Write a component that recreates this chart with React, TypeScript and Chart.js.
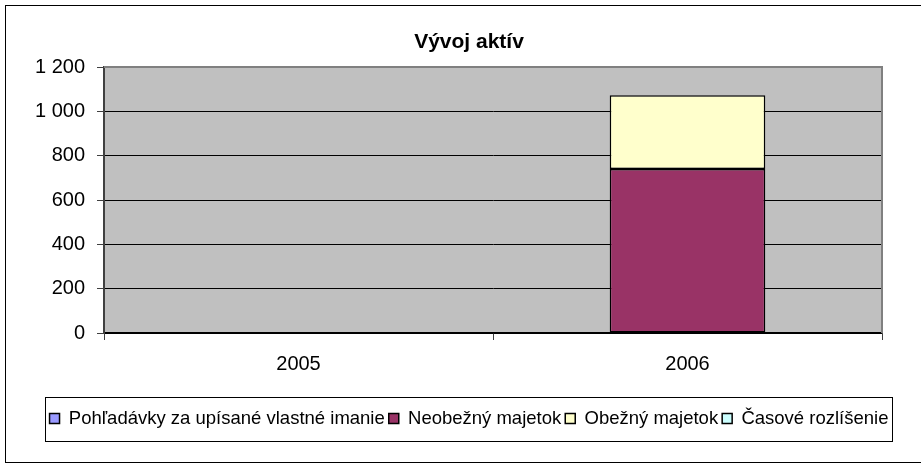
import { useEffect, useRef } from "react";
import { Chart, registerables } from "chart.js";

Chart.register(...registerables);

const chartTitle = "Vývoj aktív";
const categories = ["2005", "2006"];
const seriesNames = [
  "Pohľadávky za upísané vlastné imanie",
  "Neobežný majetok",
  "Obežný majetok",
  "Časové rozlíšenie",
];
const pohladavky = [null, 0];
const neobezny = [null, 740];
const obezny = [null, 333];
const casove = [null, 0];
const seriesColors = ["#9999FF", "#993366", "#FFFFCC", "#CCFFFF"];
const yMin = 0;
const yMax = 1200;
const yStep = 200;

const FONT = "'Liberation Sans', Arial, sans-serif";

const formatThousands = (v: number) =>
  String(v).replace(/\B(?=(\d{3})+(?!\d))/g, " ");

const framePlugin = {
  id: "excelFrame",
  beforeDraw(chart: any) {
    const { ctx, chartArea: a } = chart;
    ctx.save();
    ctx.fillStyle = "#ffffff";
    ctx.fillRect(0, 0, chart.width, chart.height);
    ctx.strokeStyle = "#000000";
    ctx.lineWidth = 1;
    ctx.strokeRect(5.5, 5.5, 940, 457);
    ctx.fillStyle = "#C0C0C0";
    ctx.fillRect(a.left, a.top, a.right - a.left, a.bottom - a.top);
    ctx.restore();
  },
  afterDraw(chart: any) {
    const { ctx, chartArea: a } = chart;
    ctx.save();
    ctx.strokeStyle = "#808080";
    ctx.lineWidth = 2;
    ctx.beginPath();
    ctx.moveTo(a.left, a.top);
    ctx.lineTo(a.right, a.top);
    ctx.lineTo(a.right, a.bottom);
    ctx.stroke();
    const boxes = chart.legend && chart.legend.legendHitBoxes;
    if (boxes && boxes.length) {
      const left = Math.min(...boxes.map((b: any) => b.left)) - 5;
      const right = Math.max(...boxes.map((b: any) => b.left + b.width)) + 3;
      const cy = boxes[0].top + boxes[0].height / 2;
      ctx.strokeStyle = "#000000";
      ctx.lineWidth = 1;
      ctx.strokeRect(
        Math.round(left) + 0.5,
        Math.round(cy - 22) + 0.5,
        Math.round(right - left),
        44
      );
    }
    ctx.restore();
  },
};

export default function App() {
  const ref = useRef<HTMLCanvasElement | null>(null);

  useEffect(() => {
    if (!ref.current) return;
    const seriesData = [pohladavky, neobezny, obezny, casove];
    const chart = new Chart(ref.current, {
      type: "bar",
      data: {
        labels: categories,
        datasets: seriesNames.map((name, i) => ({
          label: name,
          data: seriesData[i] as any,
          backgroundColor: seriesColors[i],
          borderColor: "#000000",
          borderWidth: 1.5,
          borderSkipped: false,
          barPercentage: 0.4,
          categoryPercentage: 1.0,
        })),
      },
      options: {
        responsive: false,
        animation: false,
        layout: { padding: { left: 17, right: 0, top: 0, bottom: 26.25 } },
        plugins: {
          title: {
            display: true,
            text: chartTitle,
            color: "#000000",
            font: { family: FONT, size: 21, weight: "bold" },
            padding: { top: 30, bottom: 11.8 },
          },
          legend: {
            display: true,
            position: "bottom",
            labels: {
              color: "#000000",
              font: { family: FONT, size: 18.5 },
              boxWidth: 10,
              boxHeight: 10,
              padding: 4,
            },
          },
          tooltip: { enabled: false },
        },
        scales: {
          x: {
            stacked: true,
            grid: {
              display: true,
              drawOnChartArea: false,
              drawTicks: true,
              tickLength: 7,
              offset: true,
              color: "#404040",
              tickColor: "#404040",
            },
            border: { display: true, color: "#000000", width: 1.5 },
            ticks: {
              color: "#000000",
              font: { family: FONT, size: 20 },
              padding: 12,
            },
            afterFit: (s: any) => {
              s.height = 72.25;
            },
          },
          y: {
            stacked: true,
            min: yMin,
            max: yMax,
            grid: {
              color: "#000000",
              lineWidth: 1,
              drawTicks: true,
              tickLength: 7,
              tickColor: "#404040",
            },
            border: { display: true, color: "#404040", width: 2 },
            ticks: {
              stepSize: yStep,
              color: "#000000",
              font: { family: FONT, size: 20 },
              padding: 12,
              callback: (v: any) => formatThousands(Number(v)),
            },
            afterFit: (s: any) => {
              s.width = 87;
            },
          },
          yR: {
            type: "linear",
            position: "right",
            display: true,
            grid: { display: false, drawTicks: false },
            border: { display: false },
            ticks: { display: false },
            afterFit: (s: any) => {
              s.width = 39;
            },
          },
        },
      } as any,
      plugins: [framePlugin],
    });
    return () => chart.destroy();
  }, []);

  return (
    <div style={{ position: "fixed", left: 0, top: 0, width: 921, height: 464 }}>
      <canvas ref={ref} width={921} height={464} style={{ display: "block" }} />
    </div>
  );
}
